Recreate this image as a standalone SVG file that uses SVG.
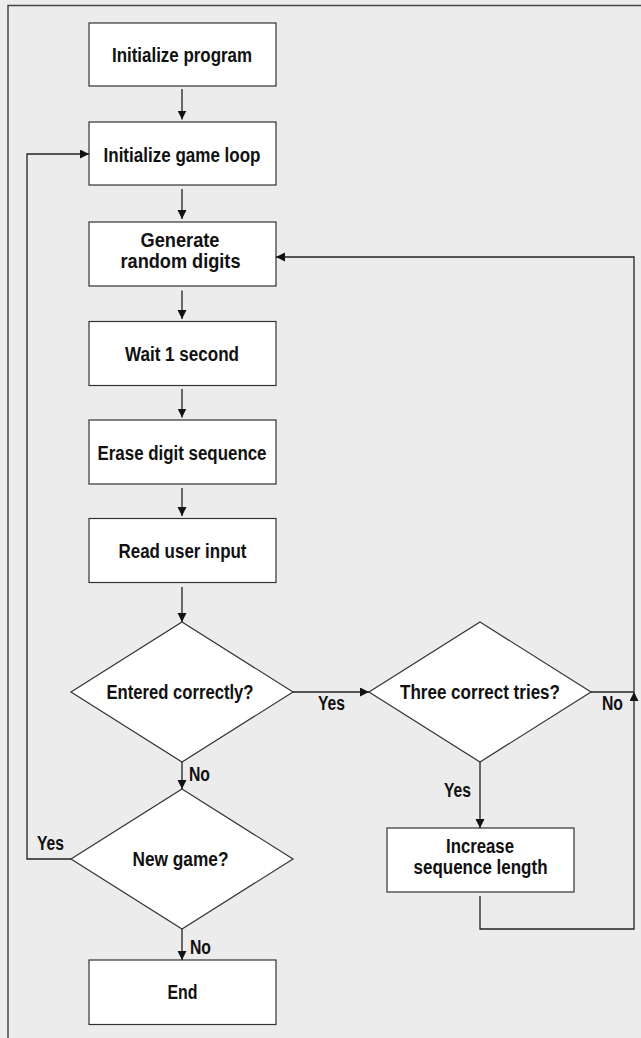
<svg xmlns="http://www.w3.org/2000/svg" width="641" height="1038" viewBox="0 0 641 1038">
<defs>
<style>
.bg{fill:#ececec}
.frame{fill:none;stroke:#444;stroke-width:1.5}
.box{fill:#fff;stroke:#333;stroke-width:1.2}
.t{font-family:"Liberation Sans",Arial,sans-serif;font-weight:bold;font-size:20px;fill:#111;text-anchor:middle}
.lbl{font-family:"Liberation Sans",Arial,sans-serif;font-weight:bold;font-size:19.5px;fill:#111}
.c{fill:none;stroke:#222;stroke-width:1.3}
</style>
<marker id="ah" markerWidth="10" markerHeight="10" refX="9" refY="4.5" orient="auto" markerUnits="userSpaceOnUse">
<path d="M0,0 L9,4.5 L0,9 Z" fill="#111"/>
</marker>
</defs>
<rect class="bg" x="0" y="0" width="641" height="1038"/>
<path class="frame" d="M8,1040 V5.5 H642"/>
<g id="n1"><rect class="box" x="89" y="23" width="187" height="63"/><text class="t" x="182" y="62" textLength="140" lengthAdjust="spacingAndGlyphs">Initialize program</text></g>
<g id="n2"><rect class="box" x="89" y="122" width="187" height="63"/><text class="t" x="182" y="161.5" textLength="157" lengthAdjust="spacingAndGlyphs">Initialize game loop</text></g>
<g id="n3"><rect class="box" x="89" y="222" width="187" height="64"/><text class="t"><tspan x="180" y="247" textLength="79" lengthAdjust="spacingAndGlyphs">Generate</tspan><tspan x="180.5" y="268" textLength="120" lengthAdjust="spacingAndGlyphs">random digits</tspan></text></g>
<g id="n4"><rect class="box" x="89" y="321.5" width="187" height="64"/><text class="t" x="182" y="361" textLength="114" lengthAdjust="spacingAndGlyphs">Wait 1 second</text></g>
<g id="n5"><rect class="box" x="89" y="420" width="187" height="64"/><text class="t" x="182" y="459.5" textLength="169" lengthAdjust="spacingAndGlyphs">Erase digit sequence</text></g>
<g id="n6"><rect class="box" x="89" y="518.5" width="187" height="64"/><text class="t" x="182.5" y="558" textLength="128" lengthAdjust="spacingAndGlyphs">Read user input</text></g>
<g id="d1"><polygon class="box" points="182,622 293,692 182,762 71,692"/><text class="t" x="180" y="699" textLength="147" lengthAdjust="spacingAndGlyphs">Entered correctly?</text></g>
<g id="d2"><polygon class="box" points="480,622 591,692 480,762 369,692"/><text class="t" x="480" y="699" textLength="160" lengthAdjust="spacingAndGlyphs">Three correct tries?</text></g>
<g id="d3"><polygon class="box" points="182,789 293,859 182,929 71,859"/><text class="t" x="180.5" y="866" textLength="96" lengthAdjust="spacingAndGlyphs">New game?</text></g>
<g id="n7"><rect class="box" x="387" y="828" width="187" height="64"/><text class="t"><tspan x="480" y="853" textLength="68" lengthAdjust="spacingAndGlyphs">Increase</tspan><tspan x="480.5" y="874" textLength="134" lengthAdjust="spacingAndGlyphs">sequence length</tspan></text></g>
<g id="n8"><rect class="box" x="89" y="960" width="187" height="64.5"/><text class="t" x="182.5" y="999" textLength="30" lengthAdjust="spacingAndGlyphs">End</text></g>
<g id="connectors">
<path class="c" d="M182,89 V119.5" marker-end="url(#ah)"/>
<path class="c" d="M182,189 V219" marker-end="url(#ah)"/>
<path class="c" d="M182,290.5 V319" marker-end="url(#ah)"/>
<path class="c" d="M182,389 V417.5" marker-end="url(#ah)"/>
<path class="c" d="M182,488 V516" marker-end="url(#ah)"/>
<path class="c" d="M182,587 V622" marker-end="url(#ah)"/>
<path class="c" d="M182,762 V789" marker-end="url(#ah)"/>
<path class="c" d="M182,929 V960" marker-end="url(#ah)"/>
<path class="c" d="M293,692 H369" marker-end="url(#ah)"/>
<path class="c" d="M480,762 V828" marker-end="url(#ah)"/>
<path class="c" d="M71,859 H27 V154 H89" marker-end="url(#ah)"/>
<path class="c" d="M591,692 H634"/>
<path class="c" d="M480,896 V929 H634 V692" marker-end="url(#ah)"/>
<path class="c" d="M634,692 V257 H276" marker-end="url(#ah)"/>
<text class="lbl" x="318" y="709.5" textLength="27" lengthAdjust="spacingAndGlyphs">Yes</text>
<text class="lbl" x="602" y="709.5" textLength="21" lengthAdjust="spacingAndGlyphs">No</text>
<text class="lbl" x="189" y="780.5" textLength="21" lengthAdjust="spacingAndGlyphs">No</text>
<text class="lbl" x="37" y="849.5" textLength="27" lengthAdjust="spacingAndGlyphs">Yes</text>
<text class="lbl" x="444" y="796.5" textLength="27" lengthAdjust="spacingAndGlyphs">Yes</text>
<text class="lbl" x="190" y="953.5" textLength="21" lengthAdjust="spacingAndGlyphs">No</text>
</g>
</svg>
